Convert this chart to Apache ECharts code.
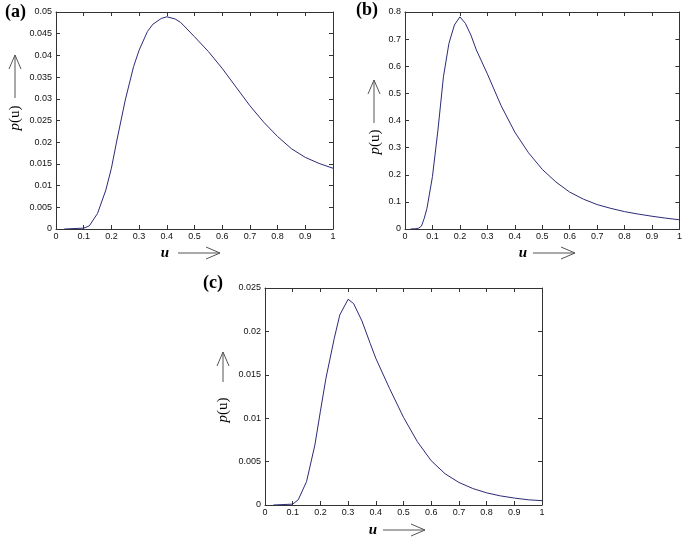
<!DOCTYPE html>
<html>
<head>
<meta charset="utf-8">
<script src="https://cdn.jsdelivr.net/npm/echarts@6/dist/echarts.min.js"></script>
<style>
  html, body { margin: 0; padding: 0; background: #fff; }
  #main { width: 685px; height: 539px; }
</style>
</head>
<body>
<div id="main"></div>
<script>
// panel (a)
var uA = [0.03, 0.1, 0.12, 0.15, 0.18, 0.2, 0.22, 0.25, 0.28, 0.3, 0.33, 0.35, 0.38, 0.4, 0.43, 0.45, 0.5, 0.55, 0.6, 0.65, 0.7, 0.75, 0.8, 0.85, 0.9, 0.95, 1.0];
var pA = [0, 0.0002, 0.0007, 0.0036, 0.009, 0.014, 0.0205, 0.0297, 0.0374, 0.0412, 0.0455, 0.0472, 0.0485, 0.0489, 0.0484, 0.0476, 0.0443, 0.0409, 0.037, 0.0327, 0.0284, 0.0246, 0.0213, 0.0185, 0.0165, 0.0151, 0.014];
// panel (b)
var uB = [0.02, 0.04, 0.05, 0.06, 0.07, 0.08, 0.1, 0.12, 0.14, 0.16, 0.18, 0.2, 0.22, 0.24, 0.26, 0.3, 0.35, 0.4, 0.45, 0.5, 0.55, 0.6, 0.65, 0.7, 0.75, 0.8, 0.85, 0.9, 0.95, 1.0];
var pB = [0, 0.001, 0.003, 0.011, 0.039, 0.076, 0.193, 0.365, 0.561, 0.684, 0.752, 0.782, 0.758, 0.715, 0.66, 0.572, 0.455, 0.357, 0.281, 0.22, 0.173, 0.136, 0.11, 0.09, 0.076, 0.064, 0.055, 0.047, 0.04, 0.034];
// panel (c)
var uC = [0.03, 0.1, 0.12, 0.15, 0.18, 0.2, 0.22, 0.25, 0.27, 0.3, 0.32, 0.35, 0.38, 0.4, 0.45, 0.5, 0.55, 0.6, 0.65, 0.7, 0.75, 0.8, 0.85, 0.9, 0.95, 1.0];
var pC = [0, 0.0001, 0.0006, 0.0027, 0.0069, 0.0108, 0.0146, 0.0192, 0.0219, 0.0237, 0.0232, 0.0212, 0.0186, 0.0169, 0.0134, 0.0101, 0.0073, 0.0051, 0.0036, 0.0026, 0.0019, 0.0014, 0.00105, 0.0008, 0.0006, 0.0005];

var panelLabels = ['(a)', '(b)', '(c)'];
var yMax = [0.05, 0.8, 0.025];
var yStep = [0.005, 0.1, 0.005];

var myChart = echarts.init(document.getElementById('main'));

var grids = [
  {left: 56, top: 12, width: 277, height: 217},
  {left: 405, top: 12, width: 277, height: 217},
  {left: 265, top: 288, width: 277, height: 217}
];

var lineCol = '#333';
var labelFont = {fontFamily: 'Arial, "Liberation Sans"', fontSize: 9, color: '#111'};

var xAxes = [], yAxes = [];
for (var i = 0; i < 3; i++) {
  xAxes.push({
    type: 'value', gridIndex: i, min: 0, max: 1, interval: 0.1, position: 'bottom',
    axisLine: {onZero: false, lineStyle: {color: lineCol, width: 1}},
    axisTick: {inside: true, length: 4, lineStyle: {color: lineCol}},
    axisLabel: Object.assign({margin: 3}, labelFont),
    splitLine: {show: false}
  });
  xAxes.push({
    type: 'value', gridIndex: i, min: 0, max: 1, interval: 0.1, position: 'top',
    axisLine: {onZero: false, lineStyle: {color: lineCol, width: 1}},
    axisTick: {inside: true, length: 4, lineStyle: {color: lineCol}},
    axisLabel: {show: false}, splitLine: {show: false}
  });
  yAxes.push({
    type: 'value', gridIndex: i, min: 0, max: yMax[i], interval: yStep[i], position: 'left',
    axisLine: {show: true, onZero: false, lineStyle: {color: lineCol, width: 1}},
    axisTick: {show: true, inside: true, length: 4, lineStyle: {color: lineCol}},
    axisLabel: Object.assign({margin: 4}, labelFont),
    splitLine: {show: false}
  });
  yAxes.push({
    type: 'value', gridIndex: i, min: 0, max: yMax[i], interval: yStep[i], position: 'right',
    axisLine: {show: true, onZero: false, lineStyle: {color: lineCol, width: 1}},
    axisTick: {show: true, inside: true, length: 4, lineStyle: {color: lineCol}},
    axisLabel: {show: false}, splitLine: {show: false}
  });
}

function pairs(u, p) {
  return u.map(function (v, k) { return [v, p[k]]; });
}

var curves = [pairs(uA, pA), pairs(uB, pB), pairs(uC, pC)];
var series = curves.map(function (d, i) {
  return {
    type: 'line', xAxisIndex: i * 2, yAxisIndex: i * 2, data: d,
    showSymbol: false, smooth: false,
    lineStyle: {color: '#2b2b78', width: 1}
  };
});

// axis names and arrows
var pLabelPos = [[15, 118], [375, 142], [223, 410]];
var upArrow = [[15, 98, 55], [374, 123, 80], [223, 382, 352]];
var uLabelPos = [[165, 253], [523, 253], [373, 530]];
var rightArrow = [[178, 220, 253], [533, 575, 253], [383, 425, 530]];
var titlePos = [[5, 3], [356, 1], [203, 274]];

var graphics = [];
var arrowStyle = {stroke: '#555', lineWidth: 1, fill: 'none'};
for (var j = 0; j < 3; j++) {
  graphics.push({
    type: 'text', left: titlePos[j][0], top: titlePos[j][1],
    style: {text: panelLabels[j], font: 'bold 18px "Liberation Serif", serif', fill: '#000'}
  });
  graphics.push({
    type: 'text', x: pLabelPos[j][0], y: pLabelPos[j][1], rotation: Math.PI / 2,
    style: {
      text: '{i|p}(u)', align: 'center', verticalAlign: 'middle',
      font: '15px "Liberation Serif", serif', fill: '#000',
      rich: {i: {fontStyle: 'italic', fontSize: 15, fontFamily: 'Liberation Serif'}}
    }
  });
  var a = upArrow[j];
  graphics.push({type: 'polyline', shape: {points: [[a[0], a[1]], [a[0], a[2]]]}, style: arrowStyle});
  graphics.push({type: 'polyline', shape: {points: [[a[0] - 6, a[2] + 14], [a[0], a[2]], [a[0] + 6, a[2] + 14]]}, style: arrowStyle});

  graphics.push({
    type: 'text', x: uLabelPos[j][0], y: uLabelPos[j][1],
    style: {text: 'u', align: 'center', verticalAlign: 'middle',
      font: 'italic bold 15px "Liberation Serif", serif', fill: '#000'}
  });
  var r = rightArrow[j];
  graphics.push({type: 'polyline', shape: {points: [[r[0], r[2]], [r[1], r[2]]]}, style: arrowStyle});
  graphics.push({type: 'polyline', shape: {points: [[r[1] - 14, r[2] - 6], [r[1], r[2]], [r[1] - 14, r[2] + 6]]}, style: arrowStyle});
}

var option = {
  backgroundColor: '#fff',
  animation: false,
  grid: grids,
  xAxis: xAxes,
  yAxis: yAxes,
  series: series,
  graphic: graphics
};
myChart.setOption(option);
</script>
</body>
</html>
